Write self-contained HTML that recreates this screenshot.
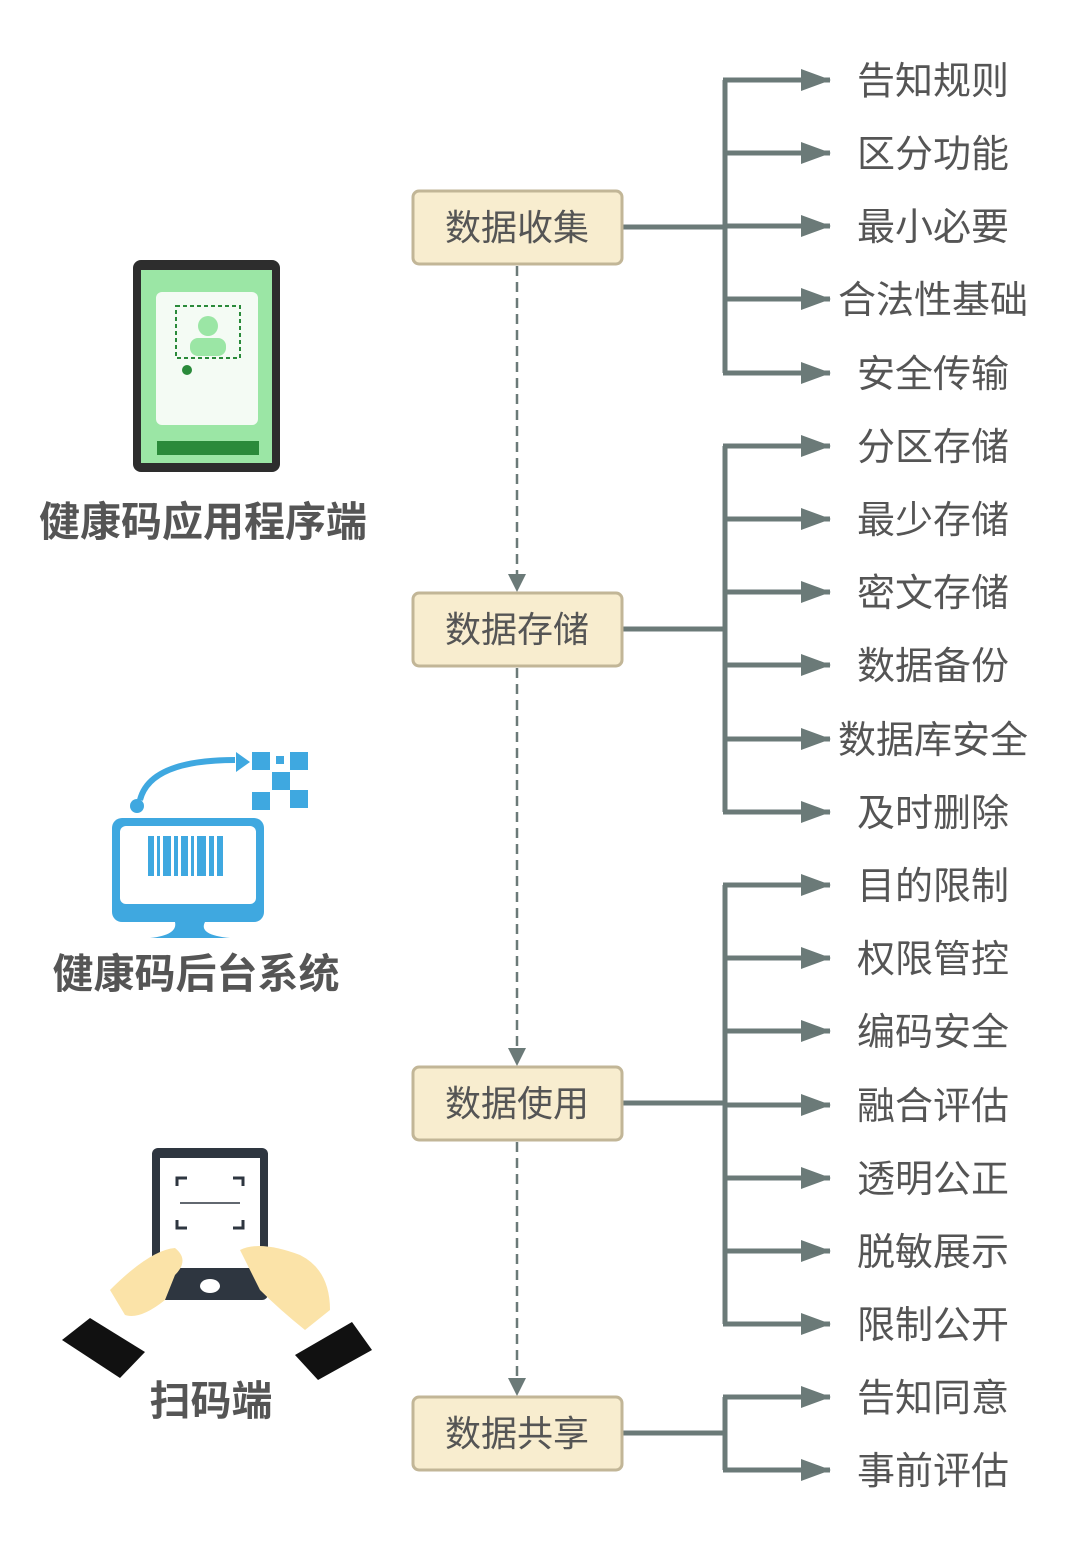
<!DOCTYPE html>
<html><head><meta charset="utf-8"><style>
body{margin:0;background:#fff;}
svg text{font-family:"Liberation Sans","Noto Sans CJK SC",sans-serif;}
</style></head><body>
<svg width="1080" height="1556" viewBox="0 0 1080 1556" xmlns="http://www.w3.org/2000/svg">
<defs>
<marker id="big" markerWidth="30" markerHeight="22" refX="29" refY="11" orient="auto" markerUnits="userSpaceOnUse"><path d="M0,0 L30,11 L0,22z" fill="#6b7a78"/></marker>
</defs>
<g stroke="#6b7a78" stroke-width="2.5" stroke-dasharray="10,6" fill="none">
<line x1="517" y1="266" x2="517" y2="578"/>
<line x1="517" y1="668" x2="517" y2="1052"/>
<line x1="517" y1="1142" x2="517" y2="1382"/>
</g>
<g fill="#6b7a78">
<path d="M508,574 L526,574 L517,592z"/>
<path d="M508,1048 L526,1048 L517,1066z"/>
<path d="M508,1378 L526,1378 L517,1396z"/>
</g>
<g stroke="#6b7a78" stroke-width="5" fill="none">
<line x1="622" y1="227" x2="725" y2="227"/><line x1="725" y1="80" x2="725" y2="373"/>
<line x1="622" y1="629" x2="725" y2="629"/><line x1="725" y1="446" x2="725" y2="812"/>
<line x1="622" y1="1103" x2="725" y2="1103"/><line x1="725" y1="885" x2="725" y2="1324"/>
<line x1="622" y1="1433" x2="725" y2="1433"/><line x1="725" y1="1397" x2="725" y2="1470"/>
</g>
<g stroke="#6b7a78" stroke-width="5" marker-end="url(#big)">
<line x1="723" y1="80" x2="830" y2="80"/><line x1="723" y1="153" x2="830" y2="153"/><line x1="723" y1="226" x2="830" y2="226"/><line x1="723" y1="299" x2="830" y2="299"/><line x1="723" y1="373" x2="830" y2="373"/>
<line x1="723" y1="446" x2="830" y2="446"/><line x1="723" y1="519" x2="830" y2="519"/><line x1="723" y1="592" x2="830" y2="592"/><line x1="723" y1="665" x2="830" y2="665"/><line x1="723" y1="739" x2="830" y2="739"/><line x1="723" y1="812" x2="830" y2="812"/>
<line x1="723" y1="885" x2="830" y2="885"/><line x1="723" y1="958" x2="830" y2="958"/><line x1="723" y1="1031" x2="830" y2="1031"/><line x1="723" y1="1105" x2="830" y2="1105"/><line x1="723" y1="1178" x2="830" y2="1178"/><line x1="723" y1="1251" x2="830" y2="1251"/><line x1="723" y1="1324" x2="830" y2="1324"/>
<line x1="723" y1="1397" x2="830" y2="1397"/><line x1="723" y1="1470" x2="830" y2="1470"/>
</g>
<g fill="#f8edcf" stroke="#c2b697" stroke-width="3">
<rect x="413" y="191" width="209" height="73" rx="6"/>
<rect x="413" y="593" width="209" height="73" rx="6"/>
<rect x="413" y="1067" width="209" height="73" rx="6"/>
<rect x="413" y="1397" width="209" height="73" rx="6"/>
</g>
<g font-size="36" fill="#555" text-anchor="middle">
<text x="517" y="240">数据收集</text><text x="517" y="642">数据存储</text><text x="517" y="1116">数据使用</text><text x="517" y="1446">数据共享</text>
</g>
<g font-size="38" fill="#555" text-anchor="middle">
<text x="933" y="94">告知规则</text><text x="933" y="167">区分功能</text><text x="933" y="240">最小必要</text><text x="933" y="313">合法性基础</text><text x="933" y="387">安全传输</text>
<text x="933" y="460">分区存储</text><text x="933" y="533">最少存储</text><text x="933" y="606">密文存储</text><text x="933" y="679">数据备份</text><text x="933" y="753">数据库安全</text><text x="933" y="826">及时删除</text>
<text x="933" y="899">目的限制</text><text x="933" y="972">权限管控</text><text x="933" y="1045">编码安全</text><text x="933" y="1119">融合评估</text><text x="933" y="1192">透明公正</text><text x="933" y="1265">脱敏展示</text><text x="933" y="1338">限制公开</text>
<text x="933" y="1411">告知同意</text><text x="933" y="1484">事前评估</text>
</g>
<g font-size="41" font-weight="bold" fill="#555" text-anchor="middle">
<text x="203" y="536">健康码应用程序端</text><text x="196" y="988">健康码后台系统</text><text x="211" y="1415">扫码端</text>
</g>
<!-- phone -->
<rect x="133" y="260" width="147" height="212" rx="8" fill="#2d2d2d"/>
<rect x="141" y="270" width="131" height="193" fill="#9be6a5"/>
<rect x="156" y="292" width="102" height="133" rx="6" fill="#f4fbf4"/>
<rect x="176" y="306" width="64" height="52" fill="none" stroke="#2a8a3a" stroke-width="2" stroke-dasharray="4,3"/>
<circle cx="208" cy="326" r="10" fill="#9be6a5"/><rect x="190" y="338" width="36" height="18" rx="8" fill="#9be6a5"/>
<circle cx="187" cy="370" r="5" fill="#2a8a3a"/>
<rect x="157" y="441" width="102" height="14" fill="#2a8a3a"/>
<!-- monitor -->
<path d="M140,800 Q150,760 235,760" stroke="#3fa8e0" stroke-width="6" fill="none"/>
<circle cx="137" cy="806" r="7" fill="#3fa8e0"/>
<path d="M236,752 L250,762 L236,772z" fill="#3fa8e0"/>
<g fill="#3fa8e0"><rect x="252" y="752" width="18" height="18"/><rect x="290" y="752" width="18" height="18"/><rect x="252" y="792" width="18" height="18"/><rect x="290" y="790" width="18" height="18"/><rect x="272" y="772" width="18" height="18"/><rect x="276" y="756" width="8" height="8"/></g>
<rect x="112" y="818" width="152" height="104" rx="10" fill="#3fa8e0"/>
<rect x="120" y="826" width="136" height="78" rx="6" fill="#fff"/>
<g fill="#3fa8e0"><rect x="148" y="836" width="6" height="40"/><rect x="157" y="836" width="3" height="40"/><rect x="163" y="836" width="8" height="40"/><rect x="174" y="836" width="4" height="40"/><rect x="181" y="836" width="7" height="40"/><rect x="191" y="836" width="3" height="40"/><rect x="197" y="836" width="9" height="40"/><rect x="209" y="836" width="5" height="40"/><rect x="217" y="836" width="6" height="40"/></g>
<path d="M175,922 L205,922 Q198,935 230,938 L150,938 Q178,935 175,922z" fill="#3fa8e0"/>
<!-- scanner -->
<rect x="152" y="1148" width="116" height="152" rx="6" fill="#2e3640"/>
<rect x="160" y="1158" width="100" height="110" fill="#fff"/>
<g stroke="#2e3640" stroke-width="3" fill="none"><path d="M177,1186 V1178 H187"/><path d="M233,1178 H243 V1186"/><path d="M177,1220 V1228 H187"/><path d="M233,1228 H243 V1220"/><line x1="180" y1="1203" x2="240" y2="1203" stroke-width="1.5"/></g>
<ellipse cx="210" cy="1286" rx="10" ry="7" fill="#fff"/>
<path d="M110,1290 Q150,1250 175,1248 Q190,1260 175,1275 L165,1300 Q140,1320 125,1315z" fill="#fbe3a8"/>
<path d="M240,1250 Q260,1240 300,1255 Q330,1270 330,1310 L305,1330 Q280,1310 260,1290z" fill="#fbe3a8"/>
<path d="M62,1340 L90,1318 L145,1352 L120,1378z" fill="#111"/>
<path d="M295,1355 L352,1322 L372,1350 L318,1380z" fill="#111"/>
</svg>
</body></html>
